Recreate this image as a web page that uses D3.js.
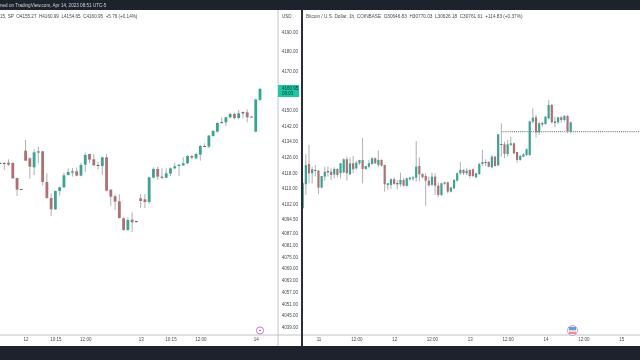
<!DOCTYPE html>
<html>
<head>
<meta charset="utf-8">
<script src="https://d3js.org/d3.v7.min.js"></script>
<style>
    html, body { margin: 0; padding: 0; background: #fff; overflow: hidden; }
    svg { display: block; filter: blur(0.3px); font-family: "Liberation Sans", sans-serif; }
    svg text { white-space: pre; }
    .axis path, .axis line { display: none; }
    .axis text { fill: #474a54; font-size: 4.5px; font-family: "Liberation Sans", sans-serif; }
</style>
</head>
<body>
<div id="chart"></div>
<script>
// SPX pane, 15 min candles
const spxOpen = [4122.96,4122.96,4123.13,4122.96,4115.28,4109.65,4129.27,4125.35,4120.74,4128.25,4128.93,4113.24,4105.05,4099.25,4108.63,4110.5,4116.82,4118.01,4118.7,4116.48,4122.11,4127.57,4124.84,4121.94,4121.43,4125.86,4109.31,4105.9,4103.34,4094.64,4088.67,4093.96,4093.11,4104.88,4104.37,4103.0,4115.45,4119.89,4115.8,4115.45,4117.5,4120.23,4121.42,4121.77,4122.79,4126.54,4125.35,4127.23,4131.5,4131.32,4136.78,4139.0,4143.4,4143.77,4146.33,4148.04,4145.99,4148.38,4148.89,4146.67,4139.0,4155.27];
const spxHigh = [4123.3,4123.3,4124.84,4123.3,4115.28,4109.65,4134.73,4125.86,4129.95,4131.32,4129.27,4117.67,4107.44,4108.8,4110.85,4118.01,4120.06,4120.4,4120.57,4123.13,4128.25,4127.57,4127.57,4123.64,4126.2,4127.57,4109.48,4106.92,4106.92,4095.15,4095.15,4097.71,4093.11,4107.1,4107.1,4115.97,4120.74,4121.08,4120.2,4120.23,4120.7,4123.1,4122.4,4125.9,4127.05,4127.05,4128.25,4132.2,4133.0,4137.3,4139.85,4143.77,4146.3,4146.67,4148.7,4148.7,4150.1,4149.4,4150.4,4146.8,4155.7,4160.99];
const spxLow = [4122.45,4119.38,4121.43,4114.94,4106.07,4109.31,4123.98,4114.94,4116.82,4122.79,4111.53,4104.71,4095.84,4098.91,4106.24,4110.17,4116.48,4115.97,4116.14,4116.14,4118.35,4122.79,4121.43,4119.72,4116.99,4108.46,4100.95,4098.91,4094.47,4088.33,4088.33,4087.65,4092.59,4099.93,4099.93,4101.98,4115.11,4114.26,4114.6,4115.1,4116.3,4119.7,4116.3,4121.4,4122.45,4124.8,4124.8,4124.15,4131.3,4130.5,4136.4,4138.5,4143.25,4141.9,4145.8,4145.3,4145.3,4145.8,4143.77,4146.5,4138.7,4154.65];
const spxClose = [4122.96,4122.62,4122.11,4115.11,4109.31,4109.48,4124.15,4121.08,4128.42,4128.93,4113.24,4105.05,4099.25,4108.63,4110.5,4116.65,4118.35,4118.7,4116.48,4121.94,4127.06,4124.67,4121.77,4121.77,4125.86,4108.8,4105.73,4103.17,4094.81,4088.67,4093.79,4092.59,4092.76,4103.51,4103.0,4115.62,4119.89,4115.97,4115.9,4117.67,4120.23,4121.25,4122.1,4122.79,4126.54,4125.69,4127.57,4131.66,4131.66,4136.95,4139.34,4143.43,4143.77,4146.33,4148.04,4145.99,4148.38,4148.89,4146.33,4146.6,4155.55,4160.95];

// BTC pane, 1 hour candles
const btcOpen = [29712,30005,30253,30139,30171,30171,29964,30098,30151,30159,30123,30192,30139,30151,30310,30127,30261,30200,30261,30302,30192,30220,30253,30322,30241,30302,30241,29997,29997,30066,30005,30005,30058,29984,30066,30074,30086,30228,30131,30106,30049,29997,30098,29988,29875,30017,30029,29915,29956,30049,30139,30180,30139,30179,30188,30090,30131,30253,30269,30277,30212,30342,30236,30489,30493,30375,30485,30505,30399,30302,30342,30363,30363,30769,30822,30639,30737,30741,30810,30973,30757,30761,30822,30790,30838,30646.83];
const btcHigh = [30037,30375,30485,30220,30241,30180,30106,30220,30220,30200,30212,30200,30261,30322,30342,30330,30350,30293,30302,30570,30228,30302,30334,30334,30416,30310,30241,30017,30078,30090,30058,30147,30078,30086,30090,30106,30533,30334,30139,30139,30098,30147,30139,30025,30025,30037,30037,29976,30066,30151,30281,30188,30200,30188,30200,30147,30269,30424,30310,30289,30363,30350,30615,30749,30525,30546,30586,30513,30399,30363,30383,30444,30781,30932,30850,30769,30769,30838,31034,30985,30830,30830,30838,30850,30850,30770.03];
const btcLow = [29704,29875,30017,30017,30098,29883,29956,30049,30098,30058,30078,30090,30078,30139,30049,30119,30139,30180,30241,30017,30180,30200,30241,30253,30212,30220,29915,29936,29948,29997,29944,29976,29976,29976,30049,30049,30037,30037,30078,29744,29976,29988,29875,29846,29862,29997,29895,29903,29944,30037,30119,30119,30119,30078,30090,30078,30118,30228,30228,30212,30200,30220,30228,30342,30322,30342,30472,30375,30269,30293,30334,30350,30354,30749,30578,30607,30708,30733,30798,30749,30700,30741,30757,30769,30627,30626.18];
const btcClose = [30017,30241,30139,30188,30180,29964,30106,30159,30163,30119,30192,30119,30261,30310,30139,30261,30188,30269,30302,30192,30228,30261,30322,30261,30302,30232,30005,30017,30066,30009,30017,30058,29988,30078,30086,30090,30220,30127,30090,30049,29993,30098,29988,29875,30017,30025,29915,29964,30058,30139,30180,30139,30171,30106,30106,30139,30253,30277,30277,30220,30342,30228,30615,30497,30375,30493,30505,30383,30302,30350,30371,30432,30773,30818,30639,30749,30749,30830,30973,30761,30769,30822,30790,30838,30655,30761.61];

// axis labels
const priceTicks = [4190,4180,4170,4150,4142,4134,4126,4118,4110,4102,4094.5,4087,4081,4075,4069,4063,4057,4051,4045,4039];
const spxTimeIdx = [6,13,20,33,40,47,60];
const spxTimeLabels = ["12","10:15","12:00","13","10:15","12:00","14"];
const btcTimeIdx = [5,17,29,41,53,65,77,89,101];
const btcTimeLabels = ["11","12:00","12","12:00","13","12:00","14","12:00","15"];

const width = 640;
const height = 360;
const axisY = 335;
const axisX = 278;
const upColor = "#38a592";
const downColor = "#b06f74";
const wickColor = "#9a9c9e";

const svg = d3.select("#chart")
    .append("svg")
    .attr("width", width)
    .attr("height", height);

const xLeft = d3.scaleLinear().domain([0, spxOpen.length - 1]).range([0, 260]);
const yLeft = d3.scaleLinear().domain([4190, 4039]).range([32, 327]);
const xRight = d3.scaleLinear().domain([0, btcOpen.length - 1]).range([302.7, 570.7]);
const yRight = d3.scaleLinear().domain([30761.61, 30646.83]).range([122.3, 131.7]);

function drawCandles(name, o, h, l, c, x, y, bodyW) {
    const g = svg.append("g").attr("class", name);
    const idx = d3.range(o.length);
    g.selectAll("line")
        .data(idx)
        .enter()
        .append("line")
        .attr("x1", i => x(i))
        .attr("x2", i => x(i))
        .attr("y1", i => y(h[i]))
        .attr("y2", i => y(l[i]))
        .attr("stroke", wickColor)
        .attr("stroke-width", 0.8);
    g.selectAll("rect")
        .data(idx)
        .enter()
        .append("rect")
        .attr("x", i => x(i) - bodyW / 2)
        .attr("width", bodyW)
        .attr("y", i => y(Math.max(o[i], c[i])))
        .attr("height", i => Math.max(0.8, Math.abs(y(o[i]) - y(c[i]))))
        .attr("fill", i => Math.abs(y(o[i]) - y(c[i])) < 1 ? "#3d4a4a" : (c[i] >= o[i] ? upColor : downColor));
}

drawCandles("spx", spxOpen, spxHigh, spxLow, spxClose, xLeft, yLeft, 2.8);

// last price level on the btc pane
svg.append("line")
    .attr("x1", xRight(63))
    .attr("x2", width)
    .attr("y1", yRight(30646.83))
    .attr("y2", yRight(30646.83))
    .attr("stroke", "#33373e")
    .attr("stroke-width", 0.8)
    .attr("stroke-dasharray", "1,1.1");

drawCandles("btc", btcOpen, btcHigh, btcLow, btcClose, xRight, yRight, 2.2);

// frame lines and bars
svg.append("line").attr("x1", 0).attr("x2", width).attr("y1", axisY).attr("y2", axisY).attr("stroke", "#b2b5ba").attr("stroke-width", 0.8);
svg.append("line").attr("x1", axisX).attr("x2", axisX).attr("y1", 10).attr("y2", 346).attr("stroke", "#b2b5ba").attr("stroke-width", 0.8);
svg.append("rect").attr("x", 0).attr("y", 0).attr("width", width).attr("height", 10).attr("fill", "#1e222d");
svg.append("rect").attr("x", 0).attr("y", 346).attr("width", width).attr("height", 14).attr("fill", "#1e222d");
svg.append("rect").attr("x", 301).attr("y", 10).attr("width", 2).attr("height", 336).attr("fill", "#2a2e39");

// price axis
svg.append("g")
    .attr("class", "axis")
    .attr("transform", "translate(" + (axisX + 1) + ",0)")
    .call(d3.axisRight(yLeft).tickValues(priceTicks).tickSize(0).tickPadding(2.7).tickFormat(d3.format(".2f")));

// time axes
svg.append("g")
    .attr("class", "axis")
    .attr("transform", "translate(0," + (axisY + 1.5) + ")")
    .call(d3.axisBottom(xLeft).tickValues(spxTimeIdx).tickSize(0).tickPadding(1).tickFormat((d, i) => spxTimeLabels[i]));

svg.append("g")
    .attr("class", "axis")
    .attr("transform", "translate(0," + (axisY + 1.5) + ")")
    .call(d3.axisBottom(xRight).tickValues(btcTimeIdx).tickSize(0).tickPadding(1).tickFormat((d, i) => btcTimeLabels[i]));

// header texts
svg.append("text").attr("x", 0).attr("y", 7).attr("fill", "#d1d4dc").style("font-size", "4.6px")
    .text("ned on TradingView.com, Apr 14, 2023 08:51 UTC-5");
svg.append("text").attr("x", 0).attr("y", 17.8).attr("fill", "#474a54").style("font-size", "4.6px")
    .text("15, SP  O4155.27  H4160.99  L4154.65  C4160.95  +5.76 (+0.14%)");
svg.append("text").attr("x", 306).attr("y", 17.8).attr("fill", "#474a54").style("font-size", "4.7px")
    .text("Bitcoin / U.S. Dollar, 1h, COINBASE  O30646.83  H30770.03  L30626.18  C30761.61  +114.83 (+0.37%)");
svg.append("text").attr("x", 282).attr("y", 17.8).attr("fill", "#474a54").style("font-size", "4.5px").text("USD");

// last price tag
svg.append("rect").attr("x", axisX).attr("y", 85).attr("width", 21).attr("height", 12).attr("fill", "#1cc7a4");
svg.append("text").attr("x", 282).attr("y", 90.3).attr("fill", "#10332c").style("font-size", "4.5px").text("4160.95");
svg.append("text").attr("x", 282).attr("y", 95.3).attr("fill", "#10332c").style("font-size", "4.5px").text("09:03");

// event markers
const bolt = svg.append("g").attr("transform", "translate(260,330.5)");
bolt.append("circle").attr("r", 3.6).attr("fill", "#fff").attr("stroke", "#b673cb").attr("stroke-width", 0.9);
bolt.append("path").attr("d", "M0.8,-2 L-1.2,0.4 L-0.1,0.4 L-0.8,2 L1.2,-0.4 L0.1,-0.4 Z").attr("fill", "#a64fc0");

const flag = svg.append("g").attr("transform", "translate(572.5,330.5)");
flag.append("circle").attr("r", 5).attr("fill", "#fff").attr("stroke", "#c291d2").attr("stroke-width", 0.9);
flag.append("rect").attr("x", -3.6).attr("y", -3.6).attr("width", 7.2).attr("height", 3.6).attr("fill", "#6f97d0");
flag.append("rect").attr("x", -3.6).attr("y", 0).attr("width", 7.2).attr("height", 1.3).attr("fill", "#e8eaf0");
flag.append("rect").attr("x", -3.6).attr("y", 1.3).attr("width", 7.2).attr("height", 2.3).attr("fill", "#e58f97");
</script>
</body>
</html>
